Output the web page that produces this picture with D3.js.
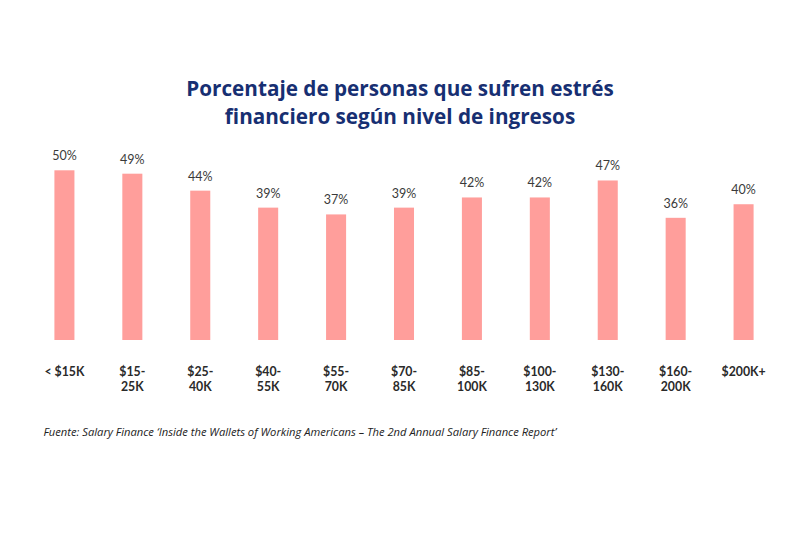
<!DOCTYPE html>
<html><head><meta charset="utf-8">
<script src="https://cdn.jsdelivr.net/npm/d3@7"></script>
<style>body{margin:0;background:#fff;} svg{display:block;}</style>
</head><body>
<script>
const categories = [["< $15K"],["$15-","25K"],["$25-","40K"],["$40-","55K"],["$55-","70K"],["$70-","85K"],["$85-","100K"],["$100-","130K"],["$130-","160K"],["$160-","200K"],["$200K+"]];
const values = [50,49,44,39,37,39,42,42,47,36,40];
const titleLines = ["Porcentaje de personas que sufren estrés","financiero según nivel de ingresos"];
const source = "Fuente: Salary Finance ‘Inside the Wallets of Working Americans – The 2nd Annual Salary Finance Report’";

const W=800,H=533;
const svg=d3.select("body").append("svg").attr("width",W).attr("height",H);
svg.append("rect").attr("width",W).attr("height",H).attr("fill","#fff");

const x=d3.scaleBand().domain(d3.range(values.length)).range([30.5,777.5]).paddingInner(0.705).paddingOuter(0.352);
const y=d3.scaleLinear().domain([0,50]).range([340,170.3]);

svg.selectAll("text.title").data(titleLines).join("text").attr("class","title")
 .attr("x",400).attr("y",(d,i)=>96+i*27.5).attr("text-anchor","middle")
 .attr("font-family","Open Sans").attr("font-weight",700).attr("font-size",20.7)
 .attr("fill","#172f72").text(d=>d);

svg.selectAll("rect.bar").data(values).join("rect").attr("class","bar")
 .attr("x",(d,i)=>x(i)).attr("width",x.bandwidth())
 .attr("y",d=>y(d)).attr("height",d=>y(0)-y(d)).attr("fill","#ff9e9b");

svg.selectAll("text.val").data(values).join("text").attr("class","val")
 .attr("x",(d,i)=>x(i)+x.bandwidth()/2).attr("y",d=>y(d)-10)
 .attr("text-anchor","middle").attr("font-family","Lato").attr("font-size",12.5)
 .attr("fill","#3a3a3a").text(d=>d+"%");

const lines=[];
categories.forEach((d,i)=>d.forEach((s,j)=>lines.push({i,j,s})));
svg.selectAll("text.cat").data(lines).join("text").attr("class","cat")
 .attr("x",d=>x(d.i)+x.bandwidth()/2).attr("y",d=>376+d.j*15)
 .attr("text-anchor","middle").attr("font-family","Lato").attr("font-weight",700)
 .attr("font-size",12.3).attr("fill","#2a2a2a").text(d=>d.s);

svg.append("text").attr("x",43.5).attr("y",436).attr("font-family","Open Sans").attr("font-style","italic")
 .attr("font-size",11.2).attr("fill","#222").text(source);
</script>
</body></html>
